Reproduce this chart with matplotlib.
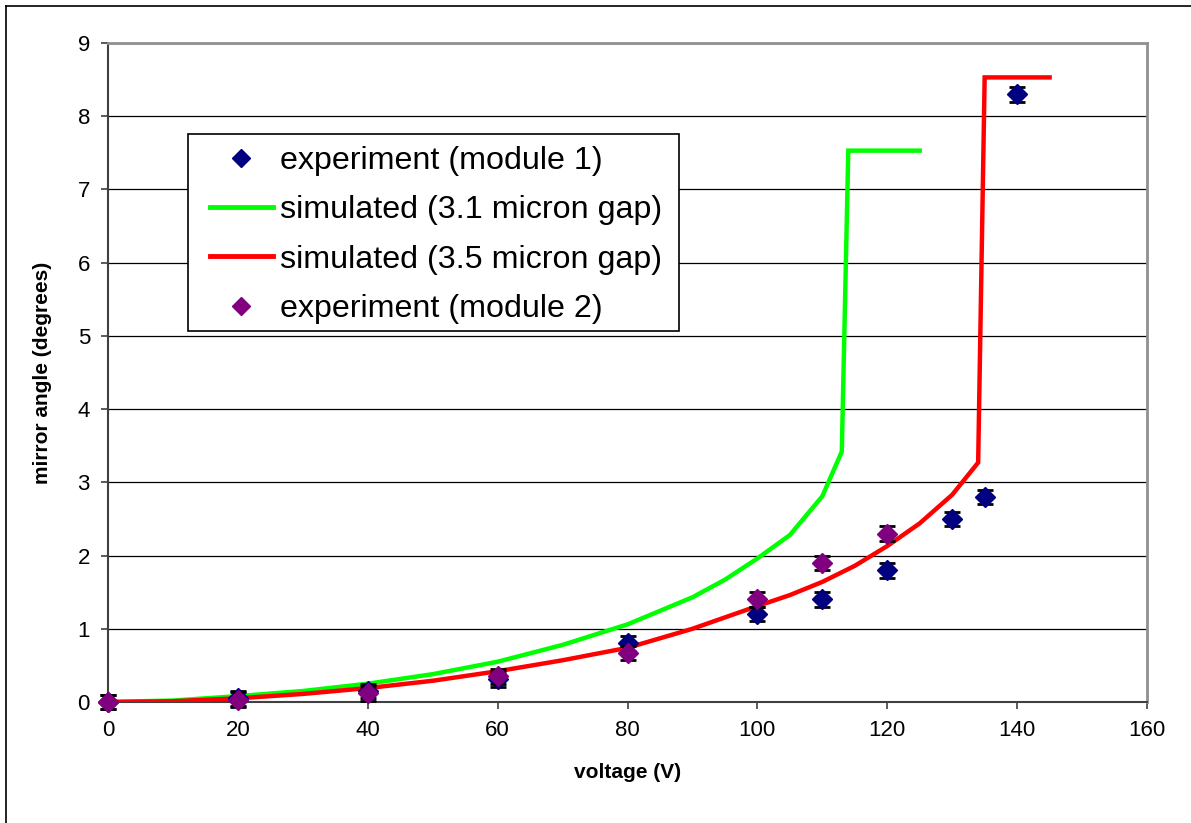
import matplotlib
matplotlib.use("Agg")
import matplotlib.pyplot as plt
from matplotlib.lines import Line2D
from matplotlib.patches import Rectangle

plt.rcParams['font.family'] = ['Liberation Sans', 'DejaVu Sans']

# ── Data ────────────────────────────────────────────────────────────────────
v_mod1 = [0, 20, 40, 60, 80, 100, 110, 120, 130, 135, 140]
a_mod1 = [0.0, 0.05, 0.15, 0.31, 0.80, 1.20, 1.40, 1.80, 2.50, 2.80, 8.30]

v_mod2 = [0, 20, 40, 60, 80, 100, 110, 120]
a_mod2 = [0.0, 0.03, 0.12, 0.35, 0.67, 1.40, 1.90, 2.30]

err = 0.1

v_sim31 = [0, 10, 20, 30, 40, 50, 60, 70, 80, 90, 95, 100, 105, 110, 113, 114, 125]
a_sim31 = [0.0, 0.02, 0.08, 0.15, 0.25, 0.38, 0.55, 0.78, 1.06, 1.43, 1.67,
           1.96, 2.28, 2.81, 3.42, 7.53, 7.53]

v_sim35 = [0, 10, 20, 30, 40, 50, 60, 70, 80, 90, 100, 105, 110, 115, 120,
           125, 130, 134, 135, 145]
a_sim35 = [0.0, 0.01, 0.05, 0.11, 0.19, 0.29, 0.42, 0.57, 0.74, 1.00, 1.31,
           1.46, 1.64, 1.86, 2.13, 2.44, 2.83, 3.27, 8.53, 8.53]

NAVY = '#000080'
PURPLE = '#800080'
GREEN = '#00FF00'
RED = '#FF0000'

W, H = 1191, 823

# ── Plot ────────────────────────────────────────────────────────────────────
fig = plt.figure(figsize=(W / 100, H / 100), dpi=100)
ax = fig.add_axes([108 / W, 1 - 702 / H, (1147 - 108) / W, (702 - 43) / H])

ax.plot(v_sim31, a_sim31, color=GREEN, lw=3.2, zorder=3, solid_joinstyle='miter')
ax.plot(v_sim35, a_sim35, color=RED, lw=3.2, zorder=3, solid_joinstyle='miter')

for v, a, c, z in ((v_mod1, a_mod1, NAVY, 4), (v_mod2, a_mod2, PURPLE, 5)):
    ax.errorbar(v, a, yerr=err, fmt='D', color=c, ms=10, ecolor='black',
                elinewidth=1.2, capsize=5.5, capthick=2, zorder=z, clip_on=False)

ax.set_xlim(0, 160)
ax.set_ylim(0, 9)
ax.set_xticks(range(0, 161, 20))
ax.set_yticks(range(0, 10))
ax.yaxis.grid(True, color='black', lw=0.9)
ax.set_axisbelow(True)

for side in ('top', 'right'):
    ax.spines[side].set_color('#909090')
    ax.spines[side].set_linewidth(2)
for side in ('left', 'bottom'):
    ax.spines[side].set_color('#404040')
    ax.spines[side].set_linewidth(1.5)

ax.tick_params(axis='both', labelsize=16, length=5, width=1.2, color='#404040', pad=8)
ax.set_xlabel('voltage (V)', fontsize=15, fontweight='bold', labelpad=16)
ax.set_ylabel('mirror angle (degrees)', fontsize=15, fontweight='bold', labelpad=18)

# legend: box drawn separately so the padding can differ per side
ax.add_patch(Rectangle((188 / W, 1 - 331 / H), (679 - 188) / W, (331 - 134) / H,
                       transform=fig.transFigure, facecolor='white',
                       edgecolor='black', lw=1.2, zorder=6, clip_on=False))
handles = [
    Line2D([], [], ls='none', marker='D', ms=9, color=NAVY),
    Line2D([], [], color=GREEN, lw=3.5),
    Line2D([], [], color=RED, lw=3.5),
    Line2D([], [], ls='none', marker='D', ms=9, color=PURPLE),
]
labels = ['experiment (module 1)', 'simulated (3.1 micron gap)',
          'simulated (3.5 micron gap)', 'experiment (module 2)']
leg = ax.legend(handles, labels, loc='upper left',
                bbox_to_anchor=(210 / W, 1 - 146 / H),
                bbox_transform=fig.transFigure, borderaxespad=0, borderpad=0,
                fontsize=23.2, frameon=False, handlelength=1.95,
                handletextpad=0.22, labelspacing=0.6)
leg.set_zorder(7)

# outer border of the chart image
fig.add_artist(Line2D([5.5 / W, 5.5 / W], [0, 1 - 5.5 / H],
                      transform=fig.transFigure, color='black', lw=1.2))
fig.add_artist(Line2D([5.5 / W, 1], [1 - 5.5 / H, 1 - 5.5 / H],
                      transform=fig.transFigure, color='black', lw=1.2))

fig.savefig('out.png', dpi=100)
